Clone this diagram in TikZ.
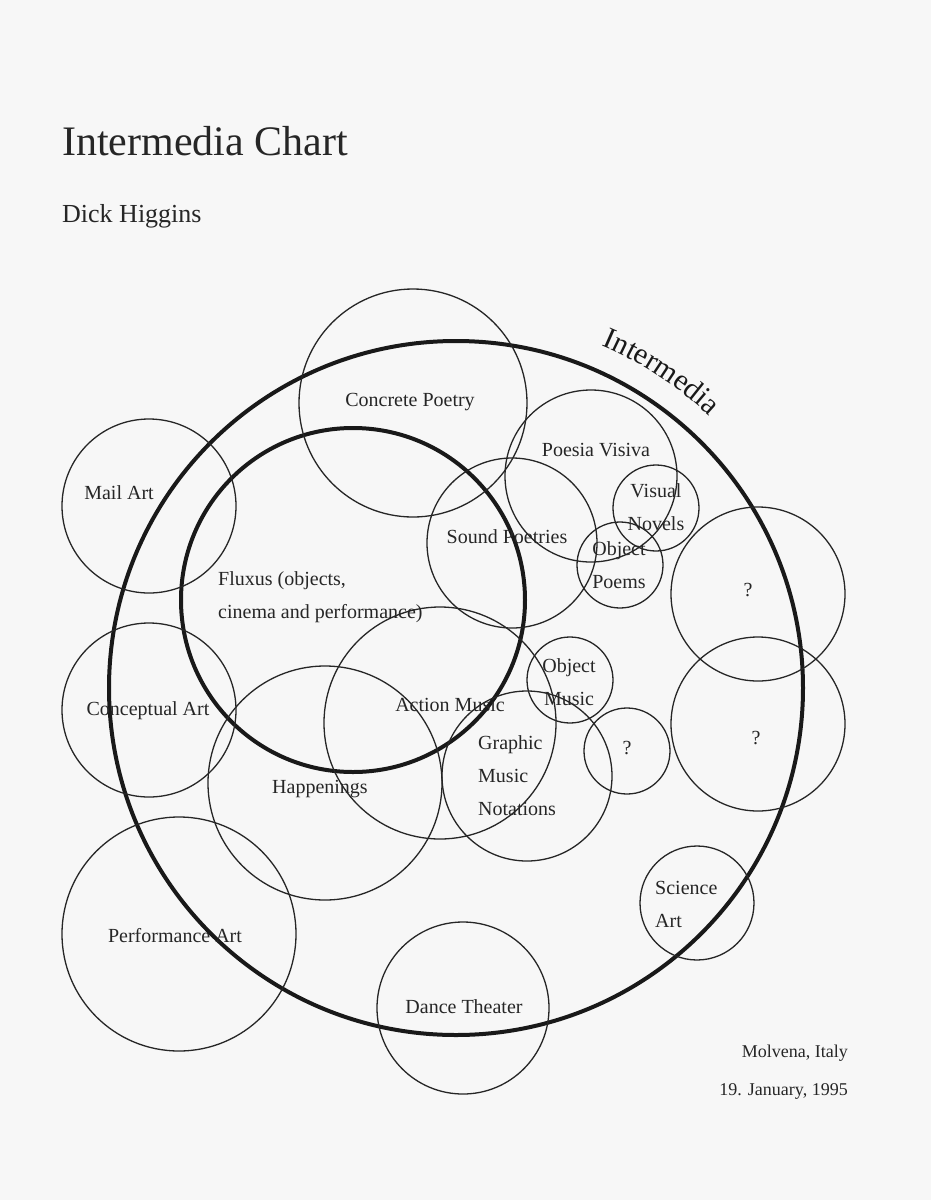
\documentclass[tikz,border=0pt]{standalone}
\usepackage{fontspec}
\setmainfont{Liberation Serif}
\usetikzlibrary{decorations.text,calc}
\begin{document}
\begin{tikzpicture}[x=1pt,y=-1pt,
 thin circ/.style={draw=black!85,line width=1.3pt},
 thick circ/.style={draw=black!90,line width=4pt},
 lab/.style={font=\fontsize{20}{33}\selectfont,text=black!85,inner sep=0pt,align=center},
 labl/.style={lab,align=left},
 note/.style={font=\fontsize{18}{22}\selectfont,text=black!85,inner sep=0pt}]
\fill[black!3] (0,0) rectangle (931,1200);
\useasboundingbox (0,0) rectangle (931,1200);
\node[anchor=base west,inner sep=0pt,font=\fontsize{42}{46}\selectfont,text=black!85] (title) at (62,155) {Intermedia Chart};
\node[anchor=base west,inner sep=0pt,font=\fontsize{26}{28}\selectfont,text=black!85] (author) at (62,222) {Dick Higgins};
% circles
\coordinate (C) at (456,688);
\draw[thick circ] (C) circle[radius=347];
\draw[thick circ] (353,600) circle[radius=172];
\draw[thin circ] (413,403) circle[radius=114];
\draw[thin circ] (149,506) circle[radius=87];
\draw[thin circ] (591,476) circle[radius=86];
\draw[thin circ] (656,508) circle[radius=43];
\draw[thin circ] (512,543) circle[radius=85];
\draw[thin circ] (620,565) circle[radius=43];
\draw[thin circ] (758,594) circle[radius=87];
\draw[thin circ] (758,724) circle[radius=87];
\draw[thin circ] (149,710) circle[radius=87];
\draw[thin circ] (440,723) circle[radius=116];
\draw[thin circ] (325,783) circle[radius=117];
\draw[thin circ] (570,680) circle[radius=43];
\draw[thin circ] (527,776) circle[radius=85];
\draw[thin circ] (627,751) circle[radius=43];
\draw[thin circ] (179,934) circle[radius=117];
\draw[thin circ] (463,1008) circle[radius=86];
\draw[thin circ] (697,903) circle[radius=57];
% curved title
\path[decorate,decoration={text along path,text align=center,
 text={|\fontsize{30}{32}\selectfont\color{black!90}|Intermedia}}]
 ($(C)+(-73:372)$) arc[start angle=-73,end angle=-41,radius=372];
% labels
\node[lab] (cp) at (410,402) {Concrete Poetry};
\node[lab] (ma) at (119,493) {Mail Art};
\node[lab] (pv) at (596,450) {Poesia Visiva};
\node[lab] (vn) at (656,507) {Visual\\Novels};
\node[lab] (sp) at (507,537) {Sound Poetries};
\node[lab] (op) at (619,565) {Object\\Poems};
\node[lab] (q1) at (748,590) {?};
\node[lab] (q2) at (756,738) {?};
\node[lab] (q3) at (627,748) {?};
\node[labl,anchor=west] (fl) at (218,597) {Fluxus (objects,\\cinema and performance)};
\node[lab] (am) at (450,705) {Action Music};
\node[lab] (om) at (569,682) {Object\\Music};
\node[lab] (ca) at (148,711) {Conceptual Art};
\node[labl,anchor=west] (gm) at (478,776) {Graphic\\Music\\Notations};
\node[lab] (hp) at (320,789) {Happenings};
\node[lab] (pa) at (175,936) {Performance Art};
\node[lab] (dt) at (464,1007) {Dance Theater};
\node[labl,anchor=west] (sa) at (655,904) {Science\\Art};
\node[note,anchor=base east] (pl) at (848,1057) {Molvena, Italy};
\node[note,anchor=base east] (dt2) at (848,1095) {19. January, 1995};
\end{tikzpicture}
\end{document}
